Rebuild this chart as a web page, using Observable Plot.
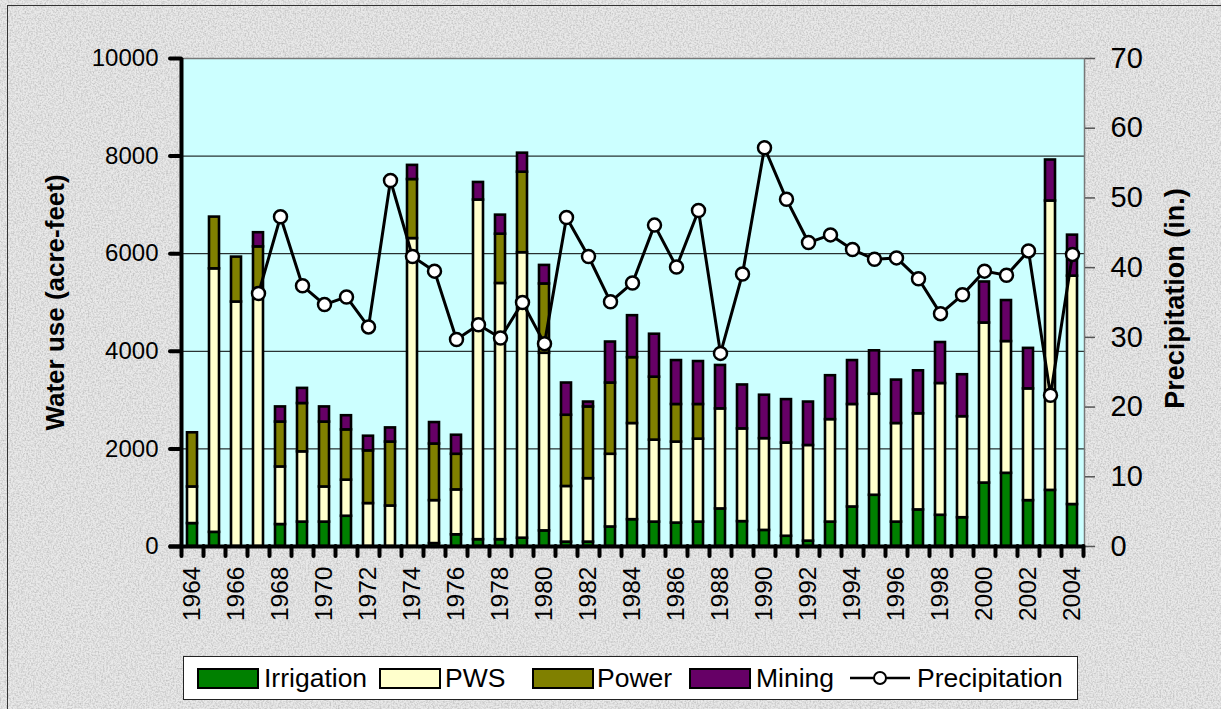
<!DOCTYPE html>
<html>
<head>
<meta charset="utf-8">
<script src="https://cdn.jsdelivr.net/npm/d3@7"></script>
<script src="https://cdn.jsdelivr.net/npm/@observablehq/plot@0.6"></script>
<style>
  html, body { margin: 0; padding: 0; background: #e2e2e2; }
  #wrap { position: relative; width: 1221px; height: 709px; overflow: hidden;
          font-family: "Liberation Sans", Arial, sans-serif; }
  #noise { position: absolute; left: 0; top: 0; width: 1221px; height: 709px; }
  #chart { position: absolute; left: 0; top: 0; }
  #border { position: absolute; left: 7px; top: 5px; width: 1300px; height: 800px;
            border-top: 1.5px solid #333; border-left: 1.5px solid #333; pointer-events: none; }
  #legend { position: absolute; left: 183px; top: 656px; width: 893px; height: 42px;
            background: #fff; border: 1px solid #222; box-sizing: content-box; }
  .sw { position: absolute; top: 11px; width: 58px; height: 17px; border: 2px solid #000; }
  .lt { position: absolute; top: 6px; font-size: 26.5px; line-height: 30px; color: #000; white-space: nowrap; }
</style>
</head>
<body>
<div id="wrap">
  <svg id="noise" width="1221" height="709">
    <filter id="nf" x="0" y="0" width="100%" height="100%">
      <feTurbulence type="fractalNoise" baseFrequency="0.6" numOctaves="2" seed="3" result="t"/>
      <feColorMatrix type="matrix" values="0 0 0 0 0  0 0 0 0 0  0 0 0 0 0  -1.6 0 0 0 1.0" />
    </filter>
    <rect width="1221" height="709" fill="#e9e9e9"/>
    <rect width="1221" height="709" filter="url(#nf)" opacity="0.22"/>
  </svg>
  <div id="chart"></div>
  <div id="border"></div>
  <div id="legend"></div>
</div>
<script>
// ---- data ----
const years = d3.range(1964, 2005);
const irrigation = [470, 290, 0, 0, 450, 500, 500, 620, 0, 0, 0, 60, 240, 140, 140, 170, 320, 90, 90, 400, 550, 500, 480, 500, 770, 510, 330, 210, 110, 500, 810, 1050, 500, 750, 640, 590, 1300, 1500, 940, 1150, 860];
const pws = [750, 5400, 5010, 5150, 1180, 1440, 720, 740, 880, 830, 6310, 880, 920, 6960, 5250, 5850, 3640, 1140, 1300, 1490, 1970, 1680, 1660, 1700, 2050, 1900, 1880, 1910, 1960, 2100, 2100, 2070, 2020, 1970, 2700, 2070, 3280, 2700, 2290, 5930, 4680];
const power = [1110, 1060, 920, 990, 920, 990, 1330, 1030, 1080, 1310, 1210, 1160, 730, 0, 1010, 1650, 1420, 1460, 1470, 1460, 1350, 1290, 770, 710, 0, 0, 0, 0, 0, 0, 0, 0, 0, 0, 0, 0, 0, 0, 0, 0, 0];
const mining = [0, 0, 0, 290, 310, 310, 310, 290, 300, 290, 290, 440, 390, 360, 390, 390, 380, 660, 100, 840, 860, 880, 900, 880, 890, 900, 890, 890, 890, 900, 900, 890, 890, 880, 840, 860, 840, 840, 830, 840, 840];
const precipitation = [null, null, null, 36.3, 47.3, 37.4, 34.7, 35.8, 31.5, 52.5, 41.6, 39.5, 29.7, 31.8, 29.9, 35.0, 29.1, 47.2, 41.6, 35.1, 37.8, 46.1, 40.1, 48.2, 27.7, 39.1, 57.2, 49.8, 43.6, 44.7, 42.6, 41.2, 41.4, 38.4, 33.4, 36.1, 39.5, 38.9, 42.4, 21.7, 41.9];
const categories = ["Irrigation", "PWS", "Power", "Mining"];
const colors = ["#008000", "#FFFFCC", "#808000", "#660066"];
const leftTicks = [0, 2000, 4000, 6000, 8000, 10000];
const rightTicks = [0, 10, 20, 30, 40, 50, 60, 70];
const labelYears = years.filter(y => y % 2 === 0);

// ---- build tables ----
const seriesArr = [irrigation, pws, power, mining];
const stacked = [];
years.forEach((yr, i) => {
  categories.forEach((c, k) => {
    if (seriesArr[k][i] > 0) stacked.push({year: yr, cat: c, value: seriesArr[k][i]});
  });
});
const P2W = 10000 / 70;
const precipData = years.map((yr, i) => ({year: yr, p: precipitation[i]}));
const precipPts = precipData.filter(d => d.p != null);

const plot = Plot.plot({
  width: 1221,
  height: 709,
  marginLeft: 181,
  marginRight: 137,
  marginTop: 58,
  marginBottom: 163,
  style: {background: "transparent", fontFamily: "'Liberation Sans', Arial, sans-serif", color: "#000", overflow: "visible"},
  x: {type: "band", domain: years, paddingInner: 0.54, paddingOuter: 0.27, axis: null},
  y: {domain: [0, 10000], axis: null},
  color: {domain: categories, range: colors},
  marks: [
    Plot.frame({fill: "#CCFFFF", stroke: null}),
    Plot.gridY(leftTicks, {stroke: "#000", strokeOpacity: 1, strokeWidth: 1}),
    Plot.frame({stroke: "#777", strokeWidth: 1.5}),
    Plot.barY(stacked, {x: "year", y: "value", fill: "cat", stroke: "#000", strokeWidth: 2.6}),
    Plot.line(precipPts, {x: "year", y: d => d.p * P2W, stroke: "#000", strokeWidth: 3}),
    Plot.dot(precipPts, {x: "year", y: d => d.p * P2W, r: 6.5, fill: "#fff", stroke: "#000", strokeWidth: 2.5}),
    // left axis
    Plot.ruleX([years[0]], {dx: -11, stroke: "#000", strokeWidth: 4}),
    Plot.axisY(leftTicks, {anchor: "left", tickSize: 11, strokeWidth: 4, strokeLinecap: "round", tickPadding: 12, fontSize: 24, tickFormat: d => String(d), label: null}),
    // right axis
    Plot.axisY(rightTicks.map(v => v * P2W), {anchor: "right", tickSize: 10, stroke: "#555", strokeWidth: 1.5, tickPadding: 16, fontSize: 29, tickFormat: d => String(Math.round(d / P2W)), label: null}),
    // bottom axis
    Plot.ruleY([0], {stroke: "#000", strokeWidth: 4, insetLeft: -12}),
    Plot.axisX(years, {anchor: "bottom", tickSize: 10, strokeWidth: 4, strokeLinecap: "round", dx: -11, fill: "none", label: null}),
    Plot.axisX([years[years.length - 1]], {anchor: "bottom", tickSize: 10, strokeWidth: 4, strokeLinecap: "round", dx: 11, fill: "none", label: null}),
    Plot.axisX(labelYears, {anchor: "bottom", tickSize: 0, tickPadding: 20, tickRotate: -90, fontSize: 24.5, tickFormat: d => String(d), label: null}),
    // axis titles
    Plot.text(["Water use (acre-feet)"], {text: d => d, frameAnchor: "left", textAnchor: "middle", dx: -126, rotate: -90, fontSize: 26, fontWeight: "bold"}),
    Plot.text(["Precipitation (in.)"], {text: d => d, frameAnchor: "right", textAnchor: "middle", dx: 91, dy: -4, rotate: -90, fontSize: 27, fontWeight: "bold"})
  ]
});
document.getElementById("chart").appendChild(plot);

// ---- legend ----
const legend = document.getElementById("legend");
const swX = [13, 195, 348, 505];
const txX = [80, 261, 413, 572];
categories.forEach((c, k) => {
  const s = document.createElement("div");
  s.className = "sw"; s.style.left = swX[k] + "px"; s.style.background = colors[k];
  legend.appendChild(s);
  const t = document.createElement("div");
  t.className = "lt"; t.style.left = txX[k] + "px"; t.textContent = c;
  legend.appendChild(t);
});
const ns = "http://www.w3.org/2000/svg";
const lsvg = document.createElementNS(ns, "svg");
lsvg.setAttribute("width", 70); lsvg.setAttribute("height", 42);
lsvg.style.position = "absolute"; lsvg.style.left = "664px"; lsvg.style.top = "0px";
lsvg.innerHTML = '<line x1="2" x2="62" y1="21" y2="21" stroke="#000" stroke-width="2.5"/><circle cx="32" cy="21" r="6" fill="#fff" stroke="#000" stroke-width="2"/>';
legend.appendChild(lsvg);
const pt = document.createElement("div");
pt.className = "lt"; pt.style.left = "733px"; pt.textContent = "Precipitation";
legend.appendChild(pt);
</script>
</body>
</html>
